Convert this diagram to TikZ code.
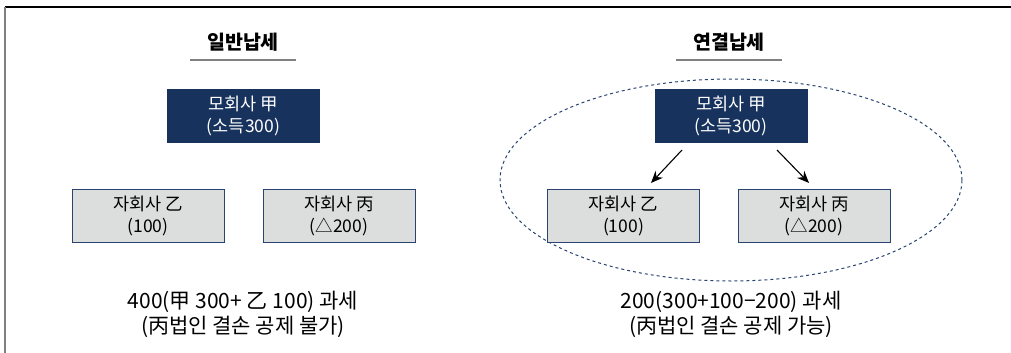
\documentclass[tikz,border=0pt]{standalone}
\usepackage{fontspec}
\setmainfont{Noto Sans CJK KR}
\usetikzlibrary{arrows.meta,shapes.geometric}
\definecolor{navy}{HTML}{17325C}
\definecolor{boxgray}{HTML}{DCDDDD}
\definecolor{boxline}{HTML}{2A4370}
\definecolor{ulgray}{HTML}{808080}
\tikzset{
  parentbox/.style={fill=navy, draw=navy, text=white, minimum width=152pt, minimum height=53pt, inner sep=0pt, align=center, font=\fontsize{17.5}{22}\selectfont},
  childbox/.style={fill=boxgray, draw=boxline, line width=1pt, text=black, minimum width=152pt, minimum height=53pt, inner sep=0pt, align=center, font=\fontsize{17.5}{22}\selectfont},
  titletext/.style={font=\fontsize{19.5}{22}\selectfont\bfseries, inner sep=0pt},
  notetext/.style={font=\fontsize{21}{25}\selectfont, align=center, inner sep=0pt},
  uline/.style={draw=ulgray, line width=2pt},
  arr/.style={-{Stealth[length=12pt,width=10pt]}, line width=1.1pt},
  groupring/.style={draw=boxline, dashed, dash pattern=on 3pt off 3pt, line width=1pt, ellipse, minimum width=462pt, minimum height=202pt, inner sep=0pt}
}
\begin{document}
\begin{tikzpicture}[x=1pt,y=-1pt]
\useasboundingbox (0,0) rectangle (1011,353);
% frame
\draw[line width=1.5pt, black] (5,7) -- (1011,7);
\draw[line width=1.5pt, ulgray] (5,7) -- (5,353);
% ellipse
\node[groupring] (ring) at (731,180) {};
% titles
\node[titletext] (t1) at (243,42) {일반납세};
\node[titletext] (t2) at (729,42) {연결납세};
\coordinate (u1a) at (190,60); \coordinate (u1b) at (296,60);
\coordinate (u2a) at (676,60); \coordinate (u2b) at (782,60);
\draw[uline] (u1a) -- (u1b);
\draw[uline] (u2a) -- (u2b);
% left
\node[parentbox] (lp) at (243.5,115.5) {모회사 甲\\(소득300)};
\node[childbox] (lc1) at (148,215.5) {자회사 乙\\(100)};
\node[childbox] (lc2) at (339,215.5) {자회사 丙\\(△200)};
\node[notetext] (ln) at (243,314) {400(甲 300+ 乙 100) 과세\\(丙법인 결손 공제 불가)};
% right
\node[parentbox] (rp) at (731,115.5) {모회사 甲\\(소득300)};
\node[childbox] (rc1) at (623.5,215.5) {자회사 乙\\(100)};
\node[childbox] (rc2) at (814,215.5) {자회사 丙\\(△200)};
\node[notetext] (rn) at (731,314) {200(300+100−200) 과세\\(丙법인 결손 공제 가능)};
% arrows
\coordinate (a1s) at (682,150); \coordinate (a1e) at (651,183);
\coordinate (a2s) at (777,150); \coordinate (a2e) at (809,183);
\draw[arr] (a1s) -- (a1e);
\draw[arr] (a2s) -- (a2e);
\end{tikzpicture}
\end{document}
